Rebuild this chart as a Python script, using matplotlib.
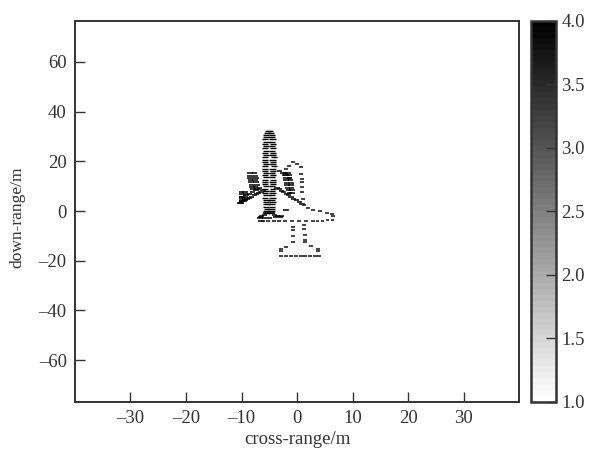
import matplotlib
matplotlib.use("Agg")
import matplotlib.pyplot as plt

plt.rcParams['font.family'] = ['Liberation Serif', 'DejaVu Sans']

# scatterers, (cross-range, down-range)
body_y = [32.4, 31.5, 30.6, 29.7, 28.8, 27.9, 27.0, 26.1, 25.2, 24.3, 23.4, 22.5, 21.6, 20.7, 19.8, 18.9,
          18.0, 17.1, 16.2, 15.3, 14.4, 13.5, 12.6, 11.7, 10.8, 9.9, 9.0, 8.1, 7.2, 6.3, 5.4, 4.5,
          3.6, 2.7, 1.8, 0.9, 0.0, -0.9]
body_left = [-5.2, -5.4, -5.6, -5.5, -5.7, -5.5, -5.7, -5.6, -5.8, -5.6, -5.8, -5.6, -5.8, -5.7, -5.8, -5.6,
             -5.8, -5.7, -5.8, -5.6, -5.8, -5.6, -5.8, -5.7, -5.8, -5.6, -5.8, -5.6, -5.7, -5.5, -5.7, -5.5,
             -5.6, -5.5, -5.6, -5.4, -5.5, -5.4]
body_right = [-4.9, -4.7, -4.5, -4.5, -4.4, -4.5, -4.3, -4.5, -4.3, -4.5, -4.3, -4.4, -4.2, -4.4, -4.3, -4.4,
              -4.2, -4.4, -4.3, -4.5, -4.3, -4.5, -4.3, -4.4, -4.3, -4.5, -4.3, -4.5, -4.4, -4.5, -4.4, -4.6,
              -4.4, -4.6, -4.5, -4.6, -4.6, -4.7]

wing_x = [-10.3, -9.9, -9.4, -9.0, -8.6, -8.2, -7.7, -7.3, -6.9, -6.5, -6.1,
          -3.6, -3.2, -2.8, -2.4, -1.9, -1.5, -1.1, -0.6, -0.1, 0.4, 0.9,
          -9.9, -9.2, -8.6, -8.0, -7.4, -6.8, -3.2, -2.6, -2.0, -1.4]
wing_y = [3.4, 3.9, 4.4, 4.8, 5.3, 5.8, 6.3, 6.8, 7.3, 7.8, 8.3,
          9.3, 8.7, 8.1, 7.5, 6.9, 6.3, 5.6, 5.0, 4.3, 3.6, 2.9,
          5.8, 6.4, 7.0, 7.8, 8.6, 9.3, 16.3, 15.4, 14.3, 13.2]

engine_x = [-8.5, -7.7, -8.5, -7.5, -8.5, -7.4, -8.4, -7.6, -8.3, -7.4, -8.2, -7.2, -8.1, -7.5, -7.9, -7.2,
            -10.0, -9.4, -10.0, -9.3, -10.0, -9.3, -10.0, -9.4, -10.0, -9.5, -10.1,
            -2.1, -1.5, -2.2, -1.4, -2.1, -1.3, -2.0, -1.2, -1.9, -1.1, -1.8, -1.1, -1.7, -1.0, -1.5, -0.9, -1.4, -0.9]
engine_y = [15.2, 15.2, 14.2, 14.2, 13.3, 13.3, 12.4, 12.4, 11.5, 11.5, 10.6, 10.6, 9.7, 9.7, 8.8, 8.8,
            7.6, 7.6, 6.7, 6.7, 5.8, 5.8, 4.9, 4.9, 4.0, 4.0, 3.1,
            15.3, 15.3, 14.3, 14.3, 13.3, 13.3, 12.3, 12.3, 11.3, 11.3, 10.3, 10.3, 9.3, 9.3, 8.3, 8.3, 7.3, 7.3]

tail_x = [-5.6, -4.5, -5.9, -4.1, -6.4, -3.5, -6.6, -3.0, -6.7, -5.8, -4.9, -3.9, -2.9, -6.5, -2.0]
tail_y = [-0.9, -0.9, -1.5, -1.5, -1.9, -1.9, -2.3, -2.3, -3.0, -2.9, -2.8, -2.5, -2.2, -3.9, 0.4]

ghost_x = [-2.0, -1.9, -1.4, -0.7, 0.0, 0.7, 0.8, 0.9, 0.9, 0.9, 0.9, 1.1, 1.3,
           2.0, 2.9, 4.1, 5.4, 6.3, 6.5,
           -6.2, -5.2, -4.2, -3.2, -2.2, -0.9, 0.4, 1.6, 2.9, 3.7, 4.6, 5.5, 6.4,
           -0.8, -0.8, -0.8, -0.7, 1.3, 1.3, 1.4, 1.4, 1.5,
           -2.9, -2.9, -1.9, 2.6, 3.8, 3.8,
           -2.9, -2.0, -1.1, -0.2, 0.7, 1.5, 2.3, 3.2, 4.0]
ghost_y = [15.3, 17.0, 18.2, 19.7, 19.0, 17.8, 15.0, 13.0, 11.5, 9.5, 7.5, 5.0, 2.5,
           1.2, 0.4, 0.0, -0.8, -1.4, -2.0,
           -4.1, -4.1, -4.1, -4.0, -4.0, -4.0, -4.0, -4.0, -3.9, -3.9, -3.9, -3.8, -3.8,
           -6.3, -7.5, -9.9, -12.4, -5.7, -7.3, -9.7, -11.5, -12.4,
           -15.3, -16.3, -14.4, -14.2, -15.3, -16.3,
           -18.1, -18.1, -18.1, -18.1, -18.1, -18.1, -18.1, -18.1, -18.1]

x_ticks = [-30, -20, -10, 0, 10, 20, 30]
y_ticks = [-60, -40, -20, 0, 20, 40, 60]
bar_ticks = [1.0, 1.5, 2.0, 2.5, 3.0, 3.5, 4.0]

dark = '#333333'
W, H = 596, 450

fig = plt.figure(figsize=(W / 100, H / 100), dpi=100)
ax = fig.add_axes([75 / W, (H - 402) / H, 444 / W, 381.5 / H])
cax = fig.add_axes([531 / W, (H - 402) / H, 25 / W, 381.5 / H])

body_xs = body_left + body_right
body_ys = body_y + body_y
part_x = wing_x + engine_x + tail_x
part_y = wing_y + engine_y + tail_y

sc = ax.scatter(body_xs, body_ys, c=[4.0] * len(body_xs), s=20, marker='_', linewidths=1.0,
                cmap='gray_r', vmin=1, vmax=4)
ax.scatter(part_x, part_y, c=[4.0] * len(part_x), s=15, marker='_', linewidths=1.1,
           cmap='gray_r', vmin=1, vmax=4)
ax.scatter(ghost_x, ghost_y, c=[3.8] * len(ghost_x), s=8, marker='_', linewidths=1.1,
           cmap='gray_r', vmin=1, vmax=4)

ax.set_xlim(-40, 40)
ax.set_ylim(-76.9, 76.7)
ax.set_xticks(x_ticks)
ax.set_yticks(y_ticks)
ax.set_xticklabels([str(t).replace('-', '\u2013') for t in x_ticks])
ax.set_yticklabels([str(t).replace('-', '\u2013') for t in y_ticks])
ax.tick_params(direction='in', length=7, width=1, color=dark, labelcolor=dark, labelsize=13.5, pad=6)
ax.set_xlabel('cross-range/m', fontsize=13.5, color=dark, labelpad=3)
ax.set_ylabel('down-range/m', fontsize=12.5, color=dark)
ax.yaxis.set_label_coords(-0.112, 0.485)
for s in ax.spines.values():
    s.set_linewidth(1.4)
    s.set_color(dark)

cb = fig.colorbar(plt.cm.ScalarMappable(norm=sc.norm, cmap=plt.get_cmap('gray_r', 64)), cax=cax)
cb.set_ticks(bar_ticks)
cb.set_ticklabels(['%.1f' % t for t in bar_ticks])
cb.ax.tick_params(direction='in', length=7, width=1, color=dark, labelcolor=dark, labelsize=13.5, pad=4)
cb.outline.set_linewidth(1.8)
cb.outline.set_edgecolor(dark)

fig.savefig('out.png', dpi=100)
